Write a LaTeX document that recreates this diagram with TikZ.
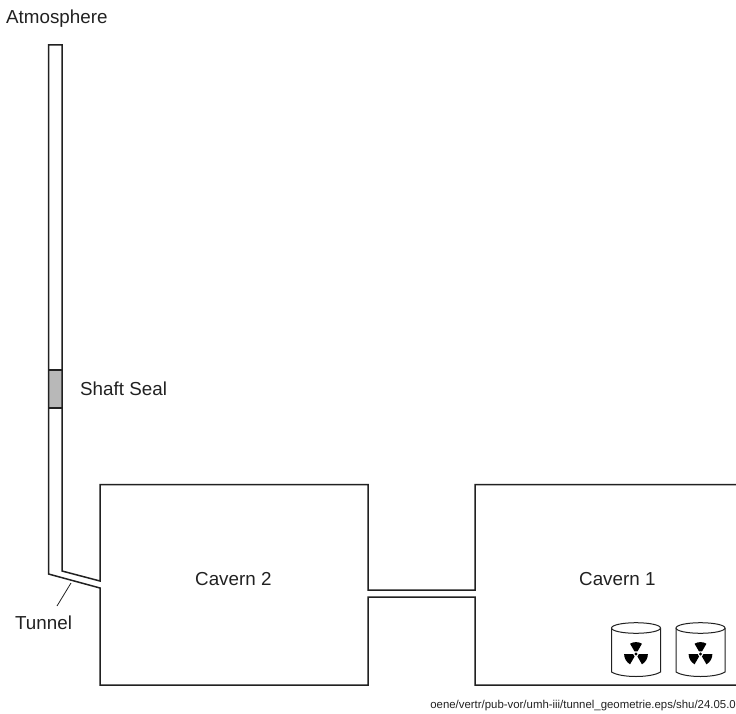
\documentclass[tikz,border=0pt]{standalone}
\usepackage{fontspec}
\setmainfont{Liberation Sans}
\definecolor{ink}{gray}{0.13}
\definecolor{sealgrey}{gray}{0.72}
\tikzset{
  wall/.style={draw=ink,line width=1.5pt,line join=miter},
  lbl/.style={inner sep=0pt,text=ink,font=\fontsize{18.8}{22}\selectfont,anchor=base west},
  thin line/.style={draw=ink,line width=0.8pt},
}
\newcommand{\drum}[2]{%
  \draw[thin line,line width=1pt,fill=white] (#1-24.5,#2-26) -- (#1-24.5,#2+18) .. controls (#1-15,#2+24) and (#1+15,#2+24) .. (#1+24.5,#2+18) -- (#1+24.5,#2-26);
  \draw[thin line,line width=1pt,fill=white] (#1,#2-26) ellipse [x radius=24.5,y radius=5.3];
  \begin{scope}[shift={(#1,#2)},x=1pt,y=1pt]
  \foreach \a in {90,210,330}{
    \fill[black] (\a-30:2.9) -- (\a-30:11.9) arc [start angle=\a-30,end angle=\a+30,radius=11.9] -- (\a+30:2.9) -- cycle;
  }
  \fill[black] (0,0) circle (1.7);
  \end{scope}
}
\begin{document}
\begin{tikzpicture}[x=1pt,y=-1pt]
\useasboundingbox (0,0) rectangle (736,714);
\clip (0,0) rectangle (736,714);
\fill[sealgrey] (48.5,370) rectangle (62,408);
\draw[wall] (736,685) -- (475,685) -- (475,597) -- (368,597) -- (368,685) -- (100,685) -- (100,588) -- (48.5,574) -- (48.5,45) -- (62,45) -- (62,571) -- (100,581) -- (100,484.5) -- (368,484.5) -- (368,590) -- (475,590) -- (475,484.5) -- (736,484.5);
\draw[wall] (48.5,370) -- (62,370) (48.5,408) -- (62,408);
\coordinate (tunnelwall) at (71,583);
\node[lbl] (atm) at (6,24) {Atmosphere};
\node[lbl] (seal) at (80,395) {Shaft Seal};
\node[lbl] (tunnel) at (15,629.5) {Tunnel};
\node[lbl] (c2) at (195,585) {Cavern 2};
\node[lbl] (c1) at (579,585) {Cavern 1};
\coordinate (leaderend) at (57,606);
\draw[thin line] (tunnelwall) -- (leaderend);
\drum{636}{654}
\drum{700.5}{654}
\node[inner sep=0pt,anchor=base east,text=ink,font=\fontsize{11.4}{13}\selectfont] (src) at (736,708) {oene/vertr/pub-vor/umh-iii/tunnel\_geometrie.eps/shu/24.05.0};
\end{tikzpicture}
\end{document}
